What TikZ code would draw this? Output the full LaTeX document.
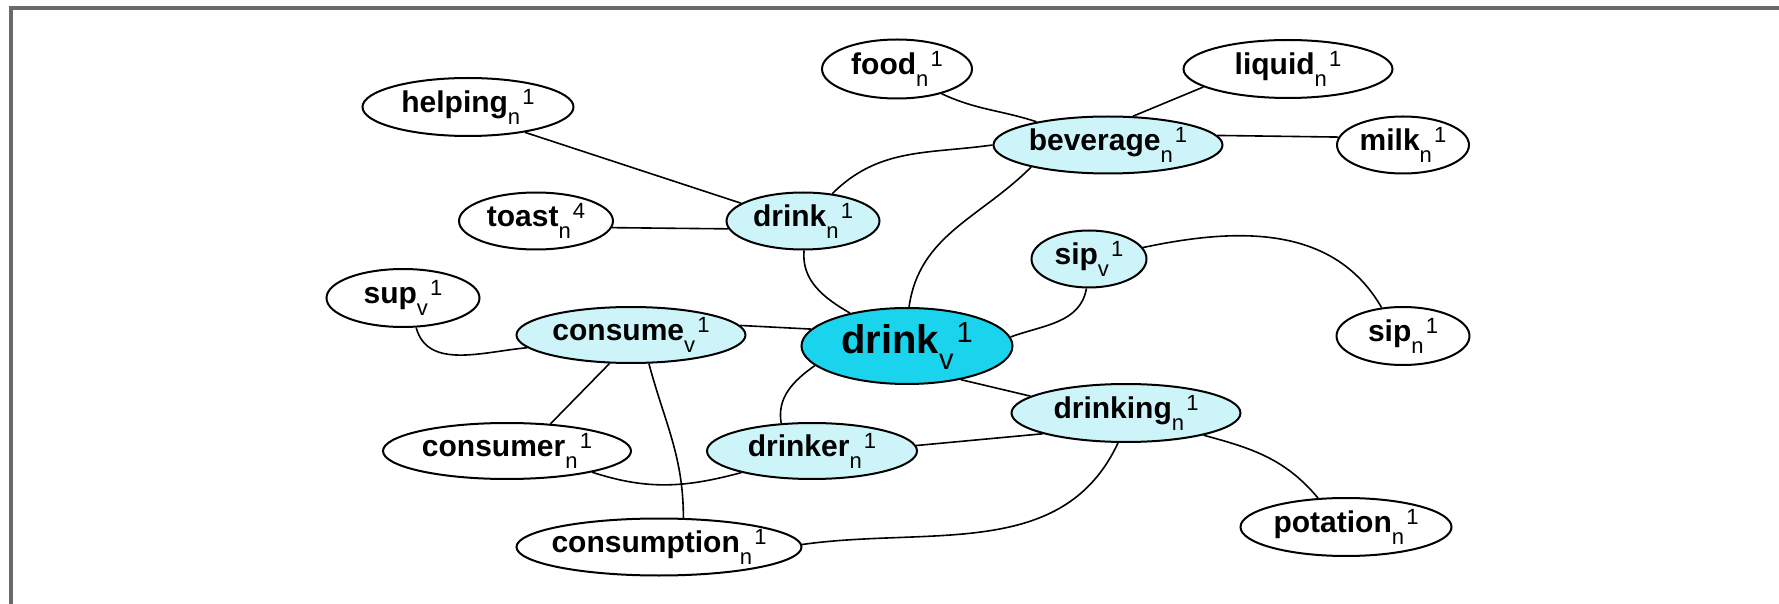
\documentclass[tikz,border=0pt]{standalone}
\usepackage{fontspec}
\setmainfont{Liberation Sans}
\usetikzlibrary{shapes.geometric}
\definecolor{lightcyan}{HTML}{CDF5F9}
\definecolor{darkcyan}{HTML}{1AD3EC}
\definecolor{framegray}{HTML}{6A6A6A}
\newcommand{\lbl}[4][11]{#2{\mdseries\fontsize{#1}{#1}\selectfont\raisebox{-0.55em}{#3}\kern0.1em\raisebox{0.36em}{#4}}}
\newcommand{\zw}[1]{\makebox[0pt]{#1}}
\begin{document}
\begin{tikzpicture}[x=0.5pt,y=-0.5pt,
  word/.style={ellipse,draw=black,line width=1pt,inner sep=0pt,
    font=\fontsize{15}{18}\selectfont\bfseries},
  plain/.style={word,fill=white},
  light/.style={word,fill=lightcyan},
  dark/.style={word,fill=darkcyan,font=\fontsize{20}{24}\selectfont\bfseries},
  sz/.style 2 args={minimum width=#1*0.5pt,minimum height=#2*0.5pt},
  link/.style={line width=0.8pt,black}]
\useasboundingbox (0,0) rectangle (1779,604);
\draw[line width=2pt,framegray] (11,604) -- (11,8.5) -- (1779,8.5);

\node[plain,sz={150}{59}] (food) at (897,69) {\zw{\lbl{food}{n}{1}}};
\node[plain,sz={209}{58}] (liquid) at (1288,69) {\zw{\lbl{liquid}{n}{1}}};
\node[plain,sz={211}{58}] (helping) at (468,107) {\zw{\lbl{helping}{n}{1}}};
\node[light,sz={229}{57}] (beverage) at (1108,145) {\zw{\lbl{beverage}{n}{1}}};
\node[plain,sz={132}{57}] (milk) at (1403,145) {\zw{\lbl{milk}{n}{1}}};
\node[plain,sz={154}{57}] (toast) at (536,221) {\zw{\lbl{toast}{n}{4}}};
\node[light,sz={153}{57}] (drinkn) at (803,221) {\zw{\lbl{drink}{n}{1}}};
\node[light,sz={115}{57}] (sipv) at (1089,259) {\zw{\lbl{sip}{v}{1}}};
\node[plain,sz={153}{58}] (sup) at (403,298) {\zw{\lbl{sup}{v}{1}}};
\node[light,sz={229}{56}] (consume) at (631,335) {\zw{\lbl{consume}{v}{1}}};
\node[dark,sz={211}{76}] (drinkv) at (907,346) {\zw{\lbl[14.5]{drink}{v}{1}}};
\node[plain,sz={133}{58}] (sipn) at (1403,336) {\zw{\lbl{sip}{n}{1}}};
\node[light,sz={229}{58}] (drinking) at (1126,413) {\zw{\lbl{drinking}{n}{1}}};
\node[plain,sz={248}{56}] (consumer) at (507,451) {\zw{\lbl{consumer}{n}{1}}};
\node[light,sz={210}{56}] (drinker) at (812,451) {\zw{\lbl{drinker}{n}{1}}};
\node[plain,sz={211}{58}] (potation) at (1346,527) {\zw{\lbl{potation}{n}{1}}};
\node[plain,sz={285}{57}] (consumption) at (659,547) {\zw{\lbl{consumption}{n}{1}}};

\draw[link] (food.-29) to[out=-25,in=162] (beverage.162);
\draw[link] (liquid.192) -- (beverage.49);
\draw[link] (beverage.5) -- (milk.173);
\draw[link] (beverage.180) to[out=188,in=45] (drinkn.43);
\draw[link] (beverage.196) to[out=225,in=82] (drinkv.87);
\draw[link] (helping.-24) -- (drinkn.164);
\draw[link] (toast.-5) -- (drinkn.186);
\draw[link] (drinkn.-88) to[out=-95,in=150] (drinkv.150);
\draw[link] (sipv.-95) to[out=-100,in=20] (drinkv.5);
\draw[link] (sipv.12) to[out=12,in=120] (sipn.127);
\draw[link] (sup.-66) to[out=-75,in=185] (consume.187);
\draw[link] (consume.5) -- (drinkv.170);
\draw[link] (consume.233) -- (consumer.32);
\draw[link] (consume.-58) to[out=-75,in=90] (consumption.50);
\draw[link] (consumer.-14) to[out=-18,in=195] (drinker.197);
\draw[link] (drinkv.192) to[out=215,in=100] (drinker.138);
\draw[link] (drinkv.-32) -- (drinking.170);
\draw[link] (drinker.3) -- (drinking.194);
\draw[link] (drinking.-105) to[out=245,in=8] (consumption.1);
\draw[link] (drinking.-16) to[out=-15,in=130] (potation.134);
\end{tikzpicture}
\end{document}
